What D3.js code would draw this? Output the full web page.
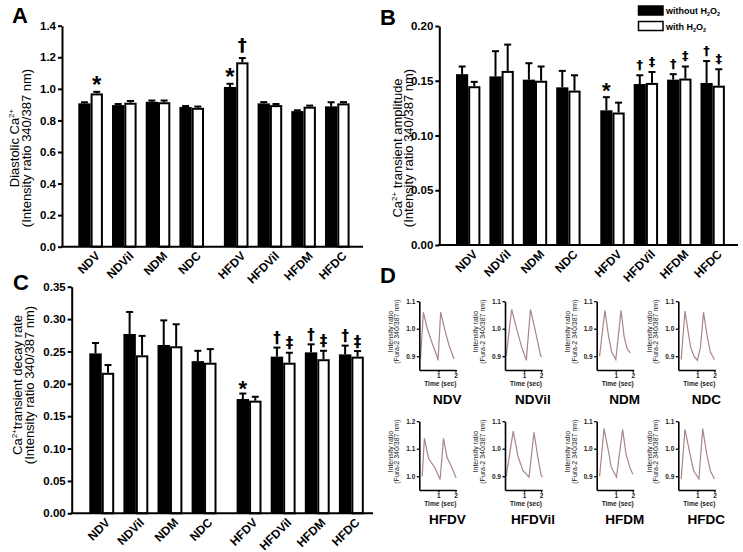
<!DOCTYPE html>
<html><head><meta charset="utf-8">
<script src="https://cdn.jsdelivr.net/npm/d3@7"></script>
<style>body{margin:0;background:#fff} svg{display:block} text{font-family:"Liberation Sans",Arial,Helvetica,sans-serif}</style>
</head><body><svg id="c" width="743" height="552"></svg>
<script>
// ---------- DATA ----------
const groups = ["NDV","NDVil","NDM","NDC","HFDV","HFDVil","HFDM","HFDC"];

// Panel A: diastolic Ca2+
const diastolicWithout    = [0.908,0.897,0.918,0.885,1.012,0.908,0.859,0.889];
const diastolicWithoutErr = [0.007,0.007,0.008,0.006,0.020,0.008,0.005,0.026];
const diastolicWith       = [0.971,0.912,0.915,0.880,1.168,0.897,0.887,0.908];
const diastolicWithErr    = [0.010,0.011,0.011,0.008,0.027,0.007,0.007,0.008];
const diastolicTicks = [0,0.2,0.4,0.6,0.8,1.0,1.2,1.4];
const diastolicMarks = [["NDV",1,"*"],["HFDV",0,"*"],["HFDV",1,"†"]];

// Panel B: transient amplitude
const amplitudeWithout    = [0.156,0.154,0.151,0.144,0.123,0.147,0.151,0.148];
const amplitudeWithoutErr = [0.007,0.023,0.015,0.015,0.012,0.008,0.005,0.020];
const amplitudeWith       = [0.145,0.159,0.150,0.141,0.121,0.148,0.152,0.1455];
const amplitudeWithErr    = [0.004,0.024,0.013,0.014,0.009,0.010,0.011,0.015];
const amplitudeTicks = [0,0.05,0.10,0.15,0.20];
const amplitudeMarks = [["HFDV",0,"*"],["HFDVil",0,"†"],["HFDVil",1,"‡"],["HFDM",0,"†"],["HFDM",1,"‡"],["HFDC",0,"†"],["HFDC",1,"‡"]];

// Panel C: transient decay rate
const decayWithout    = [0.247,0.277,0.260,0.235,0.1765,0.242,0.2486,0.2455];
const decayWithoutErr = [0.016,0.034,0.038,0.016,0.0085,0.014,0.0124,0.0135];
const decayWith       = [0.217,0.244,0.258,0.2326,0.174,0.2326,0.238,0.242];
const decayWithErr    = [0.012,0.030,0.034,0.021,0.006,0.0154,0.013,0.0086];
const decayTicks = [0,0.05,0.10,0.15,0.20,0.25,0.30,0.35];
const decayMarks = [["HFDV",0,"*"],["HFDVil",0,"†"],["HFDVil",1,"‡"],["HFDM",0,"†"],["HFDM",1,"‡"],["HFDC",0,"†"],["HFDC",1,"‡"]];

// Panel D: representative traces [time (s), intensity ratio]
const traceNDV    = [[-0.05,0.89],[0.12,1.06],[0.35,1.0],[0.62,0.95],[0.92,0.9],[0.98,0.885],[1.13,1.06],[1.36,1.0],[1.62,0.94],[1.92,0.89]];
const traceNDVil  = [[-0.05,0.9],[0.27,1.07],[0.56,1.0],[0.85,0.935],[1.13,0.885],[1.37,1.07],[1.65,0.995],[1.87,0.93],[1.98,0.9],[2.05,0.9]];
const traceNDM    = [[0.05,0.9],[0.36,1.067],[0.58,0.97],[0.76,0.915],[1.0,0.888],[1.31,1.067],[1.49,0.97],[1.67,0.927],[1.85,0.912]];
const traceNDC    = [[0.05,0.888],[0.27,1.064],[0.6,0.933],[0.8,0.9],[1.0,0.885],[1.18,0.933],[1.36,1.06],[1.58,0.97],[1.76,0.915],[2.0,0.888]];
const traceHFDV   = [[0.05,1.0],[0.18,1.138],[0.42,1.065],[0.8,1.03],[1.1,0.988],[1.3,1.138],[1.5,1.07],[1.8,1.03],[2.04,0.994]];
const traceHFDVil = [[-0.05,0.9],[0.36,1.064],[0.65,0.97],[0.94,0.92],[1.29,0.897],[1.58,1.06],[1.8,0.97],[2.0,0.903],[2.08,0.897]];
const traceHFDM   = [[0.05,0.9],[0.31,1.073],[0.58,0.988],[0.73,0.933],[1.04,0.897],[1.4,1.07],[1.6,0.98],[1.82,0.933],[2.0,0.907]];
const traceHFDC   = [[0.05,0.89],[0.27,1.07],[0.6,0.97],[0.78,0.92],[1.09,0.89],[1.31,1.073],[1.55,0.98],[1.76,0.92],[2.0,0.89]];
const traceTicksStd = [0.9,1.0,1.1];
const traceTicksHFDV = [1.0,1.1,1.2];
const timeTicks = [1,2];

// ---------- DRAWING ----------
const svg = d3.select("#c");
const fmt2 = d3.format(".2f"), fmt1 = d3.format(".1f");
const C45 = Math.SQRT1_2;

function barPanel(o){
  const g = svg.append("g");
  const y = d3.scaleLinear().domain([0,o.max]).range([o.y0,o.yTop]);
  const xl = d3.scaleLinear().domain([0,1]).range([o.start,o.start+o.step]);
  const pos = i => xl(i + (i>=4 ? 0.32 : 0));
  const bw = o.step*0.365;
  const rows = groups.map((name,i)=>({name,i,v:[o.a[i],o.b[i]],e:[o.ae[i],o.be[i]]}));
  rows.forEach(r=>{
    const x0 = pos(r.i);
    g.append("rect").attr("x",x0).attr("width",bw).attr("y",y(r.v[0])).attr("height",o.y0-y(r.v[0])).attr("fill","#000");
    g.append("rect").attr("x",x0+bw+1).attr("width",bw-2).attr("y",y(r.v[1])+1).attr("height",o.y0-y(r.v[1])-1)
      .attr("fill","#fff").attr("stroke","#000").attr("stroke-width",2);
    [0,1].forEach(s=>{
      const cx = x0 + bw*s + bw/2, top = y(r.v[s]+r.e[s]);
      g.append("line").attr("x1",cx).attr("x2",cx).attr("y1",y(r.v[s])).attr("y2",top).attr("stroke","#000").attr("stroke-width",2);
      g.append("line").attr("x1",cx-3.5).attr("x2",cx+3.5).attr("y1",top).attr("y2",top).attr("stroke","#000").attr("stroke-width",2);
    });
  });
  // significance marks
  o.marks.forEach(([name,s,sym])=>{
    const i = groups.indexOf(name);
    const cx = pos(i)+bw*s+bw/2, top = y(rows[i].v[s]+rows[i].e[s]);
    const star = sym==="*";
    const fs = star ? o.starSize : o.daggerSize;
    const base = star ? top - o.gap + 0.2*fs : top - o.gap - 0.16*fs;
    g.append("text").attr("x",cx).attr("y",base).attr("text-anchor","middle").attr("fill","#000")
      .style("font-family", star ? '"Liberation Sans",Arial,sans-serif' : '"DejaVu Sans",sans-serif')
      .attr("font-size",fs).attr("font-weight","bold").text(sym);
  });
  // y axis
  const ax = g.append("g").attr("transform",`translate(${o.axisX},0)`)
    .call(d3.axisLeft(y).tickValues(o.ticks).tickFormat(o.fmt).tickSize(4).tickSizeOuter(0).tickPadding(2));
  ax.select(".domain").attr("stroke-width",2);
  ax.selectAll(".tick line").attr("stroke-width",2);
  ax.selectAll(".tick text").attr("font-size",11.5).attr("font-weight","bold").attr("fill","#000")
    .style("font-family",'"Liberation Sans",Arial,sans-serif');
  g.append("line").attr("x1",o.axisX-1).attr("x2",o.xEnd).attr("y1",o.y0).attr("y2",o.y0).attr("stroke","#000").attr("stroke-width",2);
  // category labels (rotated 45 degrees, via a group matrix)
  rows.forEach(r=>{
    const lx = pos(r.i)+bw+o.lblDx, ly = o.y0+o.lblDy;
    g.append("g").attr("transform",`matrix(${C45},${-C45},${C45},${C45},${lx},${ly})`)
      .append("text").attr("x",0).attr("y",0)
      .attr("text-anchor","end").attr("font-size",12).attr("font-weight","bold").text(r.name);
  });
  // y title
  const tc = o.titleY;
  const t1 = g.append("text").attr("x",o.t1x).attr("y",tc).attr("transform",`rotate(-90 ${o.t1x} ${tc})`).attr("text-anchor","middle").attr("font-size",13);
  o.line1(t1);
  g.append("text").attr("x",o.t2x).attr("y",tc).attr("transform",`rotate(-90 ${o.t2x} ${tc})`).attr("text-anchor","middle").attr("font-size",13)
    .text("(Intensity ratio 340/387 nm)");
  g.append("text").attr("x",o.letterX).attr("y",o.letterY).attr("font-size",22).attr("font-weight","bold").text(o.letter);
}

function caLine(pre, post){
  return t => {
    t.append("tspan").text(pre+"Ca");
    t.append("tspan").attr("font-size",8).attr("dy",-5).text("2+");
    t.append("tspan").attr("dy",5).text(post);
  };
}

barPanel({a:diastolicWithout,ae:diastolicWithoutErr,b:diastolicWith,be:diastolicWithErr,max:1.4,ticks:diastolicTicks,fmt:fmt1,
  marks:diastolicMarks,y0:246.7,yTop:25.7,axisX:62,xEnd:363,start:78.3,step:33.7,starSize:24,daggerSize:18,gap:4,
  lblDx:10,lblDy:10,titleY:148,t1x:19,t2x:31,line1:caLine("Diastolic ",""),letter:"A",letterX:12,letterY:23});

barPanel({a:amplitudeWithout,ae:amplitudeWithoutErr,b:amplitudeWith,be:amplitudeWithErr,max:0.2,ticks:amplitudeTicks,fmt:fmt2,
  marks:amplitudeMarks,y0:245,yTop:26,axisX:439.3,xEnd:738,start:456,step:33.4,starSize:22,daggerSize:13,gap:4,
  lblDx:10,lblDy:10,titleY:148,t1x:401.5,t2x:413,line1:caLine(""," transient amplitude"),letter:"B",letterX:380,letterY:25});

barPanel({a:decayWithout,ae:decayWithoutErr,b:decayWith,be:decayWithErr,max:0.35,ticks:decayTicks,fmt:fmt2,
  marks:decayMarks,y0:513.3,yTop:286.7,axisX:71.7,xEnd:373,start:89.3,step:34.1,starSize:22,daggerSize:15,gap:2,
  lblDx:9,lblDy:10,titleY:385,t1x:22,t2x:34,line1:caLine("","transient decay rate"),letter:"C",letterX:13,letterY:290});

// legend (panel B)
const leg = svg.append("g");
[["#000","without"],["#fff","with"]].forEach(([fill,lab],k)=>{
  const yy = 6 + k*15.5;
  leg.append("rect").attr("x",638.5).attr("y",yy).attr("width",24.5).attr("height",9)
    .attr("fill",fill).attr("stroke","#000").attr("stroke-width",1.5);
  const t = leg.append("text").attr("x",666).attr("y",yy+8).attr("font-size",9).attr("font-weight","bold");
  t.append("tspan").text(lab+" H");
  t.append("tspan").attr("font-size",5.5).attr("dy",2).text("2");
  t.append("tspan").attr("dy",-2).text("O");
  t.append("tspan").attr("font-size",5.5).attr("dy",2).text("2");
});

// Panel D small multiples
svg.append("text").attr("x",380).attr("y",283).attr("font-size",22).attr("font-weight","bold").text("D");
const dPlots = [
  {name:"NDV",trace:traceNDV,ticks:traceTicksStd,dom:[0.85,1.1]},
  {name:"NDVil",trace:traceNDVil,ticks:traceTicksStd,dom:[0.85,1.1]},
  {name:"NDM",trace:traceNDM,ticks:traceTicksStd,dom:[0.85,1.1]},
  {name:"NDC",trace:traceNDC,ticks:traceTicksStd,dom:[0.85,1.1]},
  {name:"HFDV",trace:traceHFDV,ticks:traceTicksHFDV,dom:[0.95,1.2]},
  {name:"HFDVil",trace:traceHFDVil,ticks:traceTicksStd,dom:[0.85,1.1]},
  {name:"HFDM",trace:traceHFDM,ticks:traceTicksStd,dom:[0.85,1.1]},
  {name:"HFDC",trace:traceHFDC,ticks:traceTicksStd,dom:[0.85,1.1]}
];
const colX = [419.3,505,596.7,678.3], rowBottom = [370,490];
dPlots.forEach((p,k)=>{
  const x0 = colX[k%4], yb = rowBottom[Math.floor(k/4)], w = 37, h = 68.8;
  const g = svg.append("g");
  const xs = d3.scaleLinear().domain([-0.12,2.05]).range([x0,x0+w]);
  const ys = d3.scaleLinear().domain(p.dom).range([yb,yb-h]);
  g.append("path").datum(p.trace).attr("d",d3.line().x(d=>xs(d[0])).y(d=>ys(d[1])))
    .attr("fill","none").attr("stroke","#a98585").attr("stroke-width",1.2);
  const ya = g.append("g").attr("transform",`translate(${x0},0)`)
    .call(d3.axisLeft(ys).tickValues(p.ticks).tickFormat(fmt1).tickSize(2.5).tickSizeOuter(0).tickPadding(1.5));
  const xa = g.append("g").attr("transform",`translate(0,${yb})`)
    .call(d3.axisBottom(xs).tickValues(timeTicks).tickFormat(d3.format("d")).tickSize(2.5).tickSizeOuter(0).tickPadding(1));
  [ya,xa].forEach(a=>{
    a.select(".domain").attr("stroke-width",1.6);
    a.selectAll(".tick line").attr("stroke-width",1.3);
    a.selectAll(".tick text").attr("font-size",6.5).attr("font-weight","bold").attr("fill","#222")
      .style("font-family",'"Liberation Sans",Arial,sans-serif');
  });
  g.append("text").attr("x",x0+21).attr("y",yb+15.5).attr("text-anchor","middle").attr("font-size",6.5)
    .attr("font-weight","bold").attr("fill","#222").text("Time (sec)");
  const cy = yb - h/2 - 4;
  [["Intensity ratio",x0-26.5],["(Fura-2 340/387 nm)",x0-20]].forEach(([txt,tx])=>{
    g.append("text").attr("x",tx).attr("y",cy).attr("transform",`rotate(-90 ${tx} ${cy})`).attr("text-anchor","middle")
      .attr("font-size",7).attr("fill","#222").text(txt);
  });
  g.append("text").attr("x",x0+28).attr("y",yb+33.5).attr("text-anchor","middle").attr("font-size",13.5)
    .attr("font-weight","bold").text(p.name);
});
</script></body></html>
